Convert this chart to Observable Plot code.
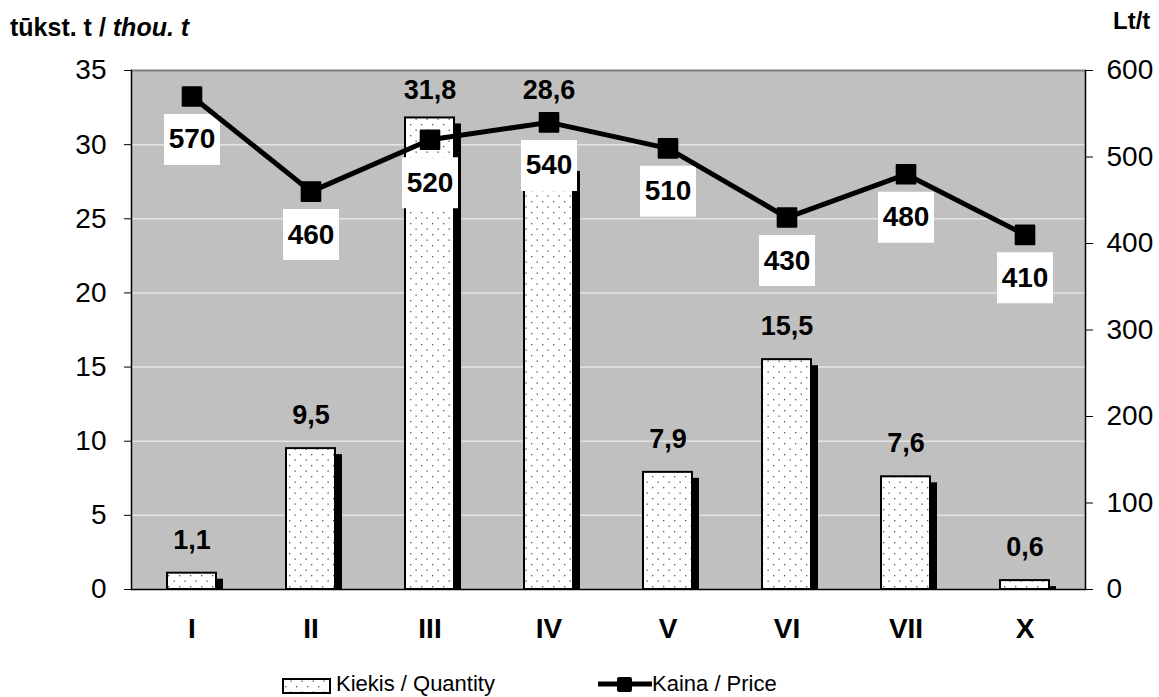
<!DOCTYPE html>
<html>
<head>
<meta charset="utf-8">
<script src="https://cdn.jsdelivr.net/npm/d3@7"></script>
<script src="https://cdn.jsdelivr.net/npm/@observablehq/plot@0.6"></script>
<style>
  html, body { margin: 0; padding: 0; background: white; }
  #wrap { position: relative; width: 1159px; height: 697px; overflow: hidden; font-family: "Liberation Sans", Arial, sans-serif; }
  #legend { position: relative; height: 25px; }
  .item { position: absolute; top: 0; display: flex; align-items: flex-start; font-size: 22px; line-height: 24px; color: black; white-space: nowrap; }
  .item svg { display: block; }
</style>
</head>
<body>
<div id="wrap">
  <div id="chart"></div>
  <div id="legend"></div>
</div>
<script>
// ---- data ----
const months = ["I", "II", "III", "IV", "V", "VI", "VII", "X"];
const quantity = [1.1, 9.5, 31.8, 28.6, 7.9, 15.5, 7.6, 0.6];   // tūkst. t
const price = [570, 460, 520, 540, 510, 430, 480, 410];          // Lt/t
const leftTicks = [0, 5, 10, 15, 20, 25, 30, 35];
const rightTicks = [0, 100, 200, 300, 400, 500, 600];
const seriesNames = ["Kiekis / Quantity", "Kaina / Price"];

const qMax = 35, pMax = 600;
const toQ = p => p * qMax / pMax;
const data = months.map((m, i) => ({month: m, q: quantity[i], p: price[i], pq: toQ(price[i])}));
const fmtComma = v => String(v).replace(".", ",");

const W = 1159, H = 672;
const font = "'Liberation Sans', Arial, sans-serif";
const bandInset = 35;
const labelBox = {draw(ctx) { ctx.rect(-28, -25.5, 56, 51); }};

// label offsets (pixels) for quantity labels
const qLabelDy = {III: -28, IV: -75};

const chart = Plot.plot({
  width: W, height: H,
  marginLeft: 131, marginRight: 74, marginTop: 70, marginBottom: H - 589,
  style: {fontFamily: font, background: "white", color: "black", overflow: "visible"},
  x: {domain: months, padding: 0, label: null, axis: null},
  y: {domain: [0, qMax], label: null, axis: null},
  marks: [
    Plot.frame({fill: "#c0c0c0", stroke: "none"}),
    Plot.ruleY(leftTicks.slice(1, -1), {stroke: "#e4e4e4", strokeWidth: 1.5}),
    Plot.ruleY([qMax], {stroke: "#808080", strokeWidth: 2}),
    // shadows
    Plot.barY(data, {x: "month", y: "q", fill: "black", insetLeft: bandInset + 7, insetRight: bandInset - 7, insetTop: 6}),
    // bars
    Plot.barY(data, {x: "month", y: "q", fill: "url(#dots)", stroke: "black", strokeWidth: 2, insetLeft: bandInset, insetRight: bandInset}),
    // quantity labels
    Plot.text(data, {x: "month", y: "q", text: d => fmtComma(d.q), dy: -33, fontSize: 27, fontWeight: "bold",
      filter: d => !(d.month in qLabelDy)}),
    Plot.text(data.filter(d => d.month === "III"), {x: "month", y: "q", text: d => fmtComma(d.q), dy: qLabelDy.III, fontSize: 27, fontWeight: "bold"}),
    Plot.text(data.filter(d => d.month === "IV"), {x: "month", y: "q", text: d => fmtComma(d.q), dy: qLabelDy.IV, fontSize: 27, fontWeight: "bold"}),
    // price label boxes
    Plot.dot(data, {x: "month", y: "pq", symbol: labelBox, fill: "white", stroke: "none", dy: 43}),
    Plot.text(data, {x: "month", y: "pq", text: d => String(d.p), dy: 43, fontSize: 28, fontWeight: "bold"}),
    // price line
    Plot.line(data, {x: "month", y: "pq", stroke: "black", strokeWidth: 5}),
    Plot.dot(data, {x: "month", y: "pq", symbol: "square", r: 10.5, fill: "black", stroke: "black", strokeWidth: 2, strokeLinejoin: "round"}),
    // axes lines
    Plot.frame({anchor: "left", stroke: "black", strokeWidth: 1.5}),
    Plot.frame({anchor: "right", stroke: "black", strokeWidth: 1.5}),
    Plot.ruleY([0], {stroke: "black", strokeWidth: 1.5}),
    Plot.axisY(leftTicks, {anchor: "left", tickSize: 7, tickPadding: 18, fontSize: 28, label: null}),
    Plot.axisY(rightTicks.map(toQ), {anchor: "right", tickSize: 7, tickPadding: 14, fontSize: 28, label: null,
      tickFormat: d => String(Math.round(d * pMax / qMax))}),
    Plot.axisX(months, {anchor: "bottom", tickSize: 0, tickPadding: 29, fontSize: 28, fontWeight: "bold", label: null})
  ]
});

document.getElementById("chart").appendChild(chart);

// pattern + titles
const svg = d3.select(chart);
const defs = svg.insert("defs", ":first-child");
const pat = defs.append("pattern").attr("id", "dots").attr("patternUnits", "userSpaceOnUse")
  .attr("width", 11).attr("height", 11);
pat.append("rect").attr("width", 11).attr("height", 11).attr("fill", "white");
pat.append("rect").attr("x", 3).attr("y", 3).attr("width", 1.3).attr("height", 1.3).attr("fill", "#555");
pat.append("rect").attr("x", 8.5).attr("y", 8.5).attr("width", 1.3).attr("height", 1.3).attr("fill", "#555");

const t1 = svg.append("text").attr("x", 10).attr("y", 36).attr("font-size", 25).attr("font-weight", "bold")
  .attr("text-anchor", "start").attr("font-family", font).attr("fill", "black");
t1.append("tspan").text("tūkst. t / ");
t1.append("tspan").attr("font-style", "italic").text("thou. t");
svg.append("text").attr("x", 1113).attr("y", 29).attr("font-size", 24).attr("font-weight", "bold")
  .attr("text-anchor", "start").attr("font-family", font).attr("fill", "black").text("Lt/t");

// legend
const legend = d3.select("#legend");
const it1 = legend.append("div").attr("class", "item").style("left", "282px");
const s1 = it1.append("svg").attr("width", 54).attr("height", 25);
s1.append("rect").attr("x", 1).attr("y", 7).attr("width", 47).attr("height", 14)
  .attr("fill", "url(#dots)").attr("stroke", "black").attr("stroke-width", 2);
it1.append("span").text(seriesNames[0]);

const it2 = legend.append("div").attr("class", "item").style("left", "598px");
const s2 = it2.append("svg").attr("width", 54).attr("height", 25);
s2.append("line").attr("x1", 0).attr("x2", 54).attr("y1", 12).attr("y2", 12).attr("stroke", "black").attr("stroke-width", 5);
s2.append("rect").attr("x", 19).attr("y", 5).attr("width", 15).attr("height", 15).attr("rx", 2).attr("fill", "black");
it2.append("span").text(seriesNames[1]);
</script>
</body>
</html>
